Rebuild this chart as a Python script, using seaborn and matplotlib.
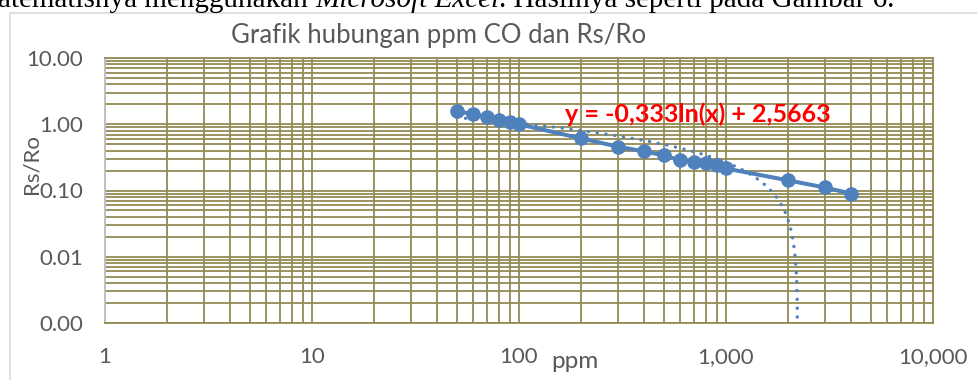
import numpy as np
import pandas as pd
import matplotlib
matplotlib.use("Agg")
import matplotlib.pyplot as plt
import matplotlib.ticker as mticker
from matplotlib.patches import Rectangle
import seaborn as sns

# ---- data ----
ppm = [50, 60, 70, 80, 90, 100, 200, 300, 400, 500, 600, 700, 800, 900, 1000, 2000, 3000, 4000]
rs_ro = [1.57, 1.42, 1.28, 1.15, 1.07, 1.00, 0.61, 0.46, 0.39, 0.34, 0.285, 0.27, 0.26, 0.24, 0.215, 0.142, 0.111, 0.090]

# logarithmic trendline shown on the chart: y = a*ln(x) + b
trend_a = -0.333
trend_b = 2.5663

x_ticks = [1, 10, 100, 1000, 10000]
x_tick_labels = ["1", "10", "100", "1,000", "10,000"]
y_ticks = [0.001, 0.01, 0.1, 1, 10]
y_tick_labels = ["0.00", "0.01", "0.10", "1.00", "10.00"]

title = "Grafik hubungan ppm CO dan Rs/Ro"
x_label = "ppm"
y_label = "Rs/Ro"
eq_label = "y = -0,333ln(x) + 2,5663"
doc_parts = [("atematisnya menggunakan ", "normal"),
             ("Microsoft Excel", "italic"),
             (". Hasilnya seperti pada Gambar 6.", "normal")]

# ---- styling ----
sns.set_theme(style="white")
plt.rcParams["font.family"] = ["Lato", "DejaVu Sans"]

W, H = 977, 380
fig = plt.figure(figsize=(W / 100, H / 100), dpi=100)
fig.patch.set_facecolor("white")

ax = fig.add_axes([105 / W, 1 - 323 / H, 828 / W, 265 / H])

blue = "#4F81BD"
grid_c = "#948A54"
text_c = "#595959"

df = pd.DataFrame({"ppm": ppm, "rs_ro": rs_ro})
sns.lineplot(data=df, x="ppm", y="rs_ro", ax=ax, color=blue, lw=2.9,
             marker="o", markersize=10.5, markeredgewidth=0, zorder=3)

root = np.exp(-trend_b / trend_a)
tx = np.geomspace(min(ppm), root * 0.99999, 600)
ty = trend_a * np.log(tx) + trend_b
tdf = pd.DataFrame({"x": tx, "y": ty})
sns.lineplot(data=tdf, x="x", y="y", ax=ax, color=blue, lw=2.4,
             linestyle=(0, (0.05, 2.6)), dash_capstyle="round", zorder=4)

ax.set_xscale("log")
ax.set_yscale("log")
ax.set_xlim(1, 10000)
ax.set_ylim(0.001, 10)

ax.set_xticks(x_ticks)
ax.set_xticklabels(x_tick_labels)
ax.set_yticks(y_ticks)
ax.set_yticklabels(y_tick_labels)
ax.xaxis.set_minor_locator(mticker.LogLocator(base=10, subs=np.arange(2, 10)))
ax.yaxis.set_minor_locator(mticker.LogLocator(base=10, subs=np.arange(2, 10)))
ax.xaxis.set_minor_formatter(mticker.NullFormatter())
ax.yaxis.set_minor_formatter(mticker.NullFormatter())
ax.tick_params(which="both", length=0)
ax.tick_params(axis="x", pad=17, labelsize=16, labelcolor=text_c)
ax.tick_params(axis="y", pad=16, labelsize=16, labelcolor=text_c)

ax.grid(which="both", color=grid_c, lw=1.3)
ax.set_axisbelow(True)
for s in ["top", "right", "bottom"]:
    ax.spines[s].set_color(grid_c)
    ax.spines[s].set_linewidth(1.3)
ax.spines["left"].set_color("#BFBFBF")
ax.spines["left"].set_linewidth(1.3)

ax.set_xlabel(x_label, fontsize=17.5, color=text_c)
ax.set_ylabel(y_label, fontsize=16, color=text_c)
ax.xaxis.set_label_coords((575 - 105) / 828, -(362 - 323) / 265)
ax.yaxis.set_label_coords(-(105 - 31) / 828, (323 - 164) / 265)
ax.xaxis.label.set_va("center")
ax.yaxis.label.set_va("center")

fig.text(439 / W, 1 - 35 / H, title, ha="center", va="center",
         fontsize=18.5, color=text_c)
fig.text(698 / W, 1 - 114 / H, eq_label, ha="center", va="center",
         fontsize=18, fontweight="bold", color="#FF0000", zorder=5)

# chart border
fig.patches.append(Rectangle((10 / W, -0.05), 1.2, 1 - 13 / H + 0.05,
                             transform=fig.transFigure, fill=False,
                             edgecolor="#D9D9D9", lw=1.2))

# document text above the chart (cropped at the top edge like the reference)
renderer = fig.canvas.get_renderer()
x_px = -2
for txt, style in doc_parts:
    t = fig.text(x_px / W, 1 - 7 / H, txt, ha="left", va="baseline",
                 fontsize=21, color="black", style=style,
                 family=["Liberation Serif", "DejaVu Serif"])
    bb = t.get_window_extent(renderer=renderer)
    x_px = bb.x1

fig.savefig("out.png", dpi=100)
